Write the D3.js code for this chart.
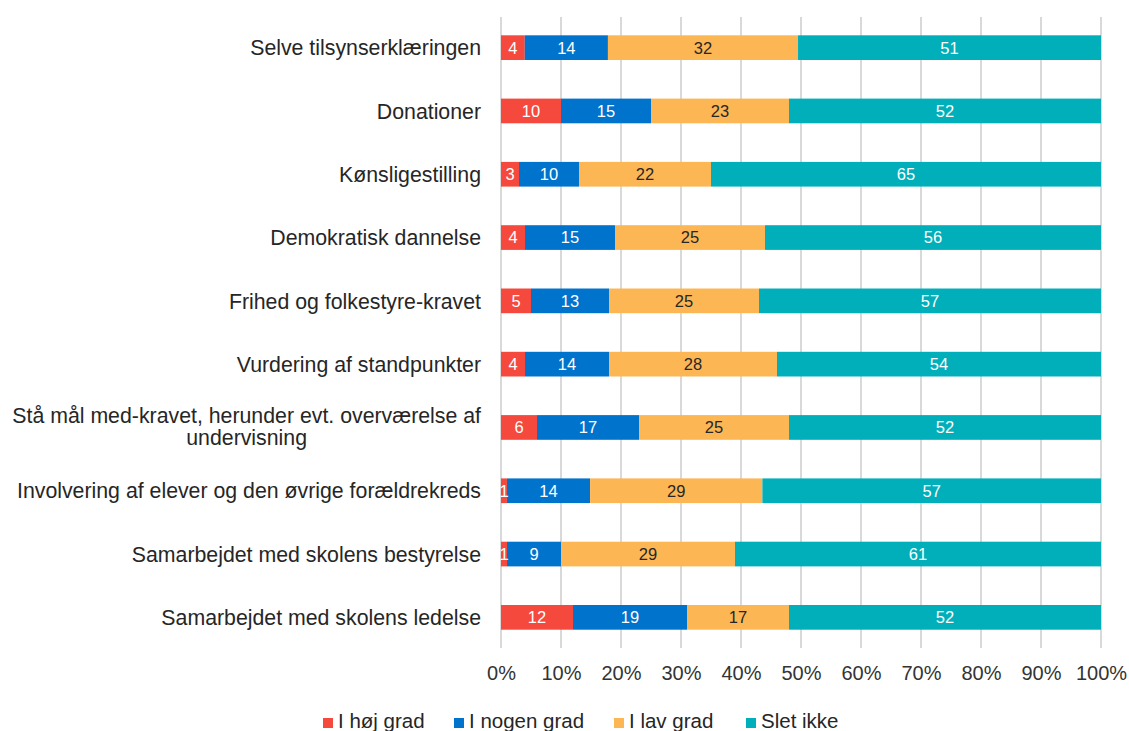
<!DOCTYPE html>
<html>
<head>
<meta charset="utf-8">
<script src="https://cdn.jsdelivr.net/npm/d3@7"></script>
<style>
  html, body { margin: 0; padding: 0; background: #fff; }
  svg { display: block; font-family: "Liberation Sans", Arial, sans-serif; }
</style>
</head>
<body>
<svg id="chart" width="1129" height="731"></svg>
<script>
const categories = [
  "Selve tilsynserklæringen",
  "Donationer",
  "Kønsligestilling",
  "Demokratisk dannelse",
  "Frihed og folkestyre-kravet",
  "Vurdering af standpunkter",
  "Stå mål med-kravet, herunder evt. overværelse af undervisning",
  "Involvering af elever og den øvrige forældrekreds",
  "Samarbejdet med skolens bestyrelse",
  "Samarbejdet med skolens ledelse"
];
const seriesNames = ["I høj grad", "I nogen grad", "I lav grad", "Slet ikke"];
const hojGrad   = [4, 10, 3, 4, 5, 4, 6, 1, 1, 12];
const nogenGrad = [14, 15, 10, 15, 13, 14, 17, 14, 9, 19];
const lavGrad   = [32, 23, 22, 25, 25, 28, 25, 29, 29, 17];
const sletIkke  = [51, 52, 65, 56, 57, 54, 52, 57, 61, 52];
const xTicks = [0, 0.1, 0.2, 0.3, 0.4, 0.5, 0.6, 0.7, 0.8, 0.9, 1];

const colors = ["#F4493C", "#0073CD", "#FDB654", "#00AFBA"];
const labelColors = ["#ffffff", "#ffffff", "#262626", "#ffffff"];

const seriesValues = [hojGrad, nogenGrad, lavGrad, sletIkke];
const table = categories.map((c, i) => {
  const row = { category: c };
  seriesNames.forEach((s, j) => row[s] = seriesValues[j][i]);
  return row;
});

const stacked = d3.stack().keys(seriesNames).offset(d3.stackOffsetExpand)(table);

const svg = d3.select("#chart");
const x = d3.scaleLinear().domain([0, 1]).range([501, 1101]);
const y = d3.scaleBand().domain(categories).range([16, 649]).paddingInner(0.61).paddingOuter(0.305);

// gridlines
svg.append("g").selectAll("line").data(xTicks).join("line")
  .attr("x1", d => x(d)).attr("x2", d => x(d))
  .attr("y1", 17).attr("y2", 648)
  .attr("stroke", "#d9d9d9").attr("stroke-width", 2);

// x axis labels
const xAxis = d3.axisBottom(x).tickValues(xTicks).tickFormat(d3.format(".0%")).tickSize(0).tickPadding(0);
const gx = svg.append("g").attr("transform", "translate(0,666)").call(xAxis);
gx.select(".domain").remove();
gx.selectAll("text").attr("font-size", 20).attr("fill", "#333").attr("font-family", "Liberation Sans, Arial, sans-serif");

// bars
const layer = svg.append("g").selectAll("g").data(stacked).join("g")
  .attr("fill", (d, i) => colors[i]);
layer.selectAll("rect").data(d => d).join("rect")
  .attr("x", d => x(d[0]))
  .attr("width", d => x(d[1]) - x(d[0]))
  .attr("y", d => y(d.data.category))
  .attr("height", y.bandwidth());

// bar labels
const lbl = svg.append("g").selectAll("g").data(stacked).join("g");
lbl.each(function(s, si) {
  d3.select(this).selectAll("text").data(s).join("text")
    .attr("x", d => (x(d[0]) + x(d[1])) / 2)
    .attr("y", d => y(d.data.category) + y.bandwidth() / 2)
    .attr("dy", "0.36em")
    .attr("text-anchor", "middle")
    .attr("font-size", 16.5)
    .attr("fill", labelColors[si])
    .text(d => d.data[s.key]);
});

// category labels
const cat = svg.append("g");
categories.forEach(c => {
  const cy = y(c) + y.bandwidth() / 2;
  if (c.startsWith("Stå mål")) {
    const lines = ["Stå mål med-kravet, herunder evt. overværelse af", "undervisning"];
    const t = cat.append("text").attr("font-size", 21.3).attr("fill", "#262626")
      .attr("text-anchor", "middle");
    const t1 = t.append("tspan").attr("y", cy - 4).text(lines[0]);
    const w = t1.node().getComputedTextLength();
    const cx = 481 - w / 2;
    t1.attr("x", cx);
    t.append("tspan").attr("x", cx).attr("y", cy + 18).text(lines[1]);
  } else {
    cat.append("text").attr("x", 481).attr("y", cy).attr("dy", "0.36em")
      .attr("text-anchor", "end").attr("font-size", 21.3).attr("fill", "#262626").text(c);
  }
});

// legend
const legendX = [323, 454, 614, 746];
const lg = svg.append("g").selectAll("g").data(seriesNames).join("g")
  .attr("transform", (d, i) => `translate(${legendX[i]},0)`);
lg.append("rect").attr("x", 0).attr("y", 718).attr("width", 10).attr("height", 10)
  .attr("fill", (d, i) => colors[i]);
lg.append("text").attr("x", 15).attr("y", 728).attr("font-size", 20.5).attr("fill", "#262626").text(d => d);
</script>
</body>
</html>
